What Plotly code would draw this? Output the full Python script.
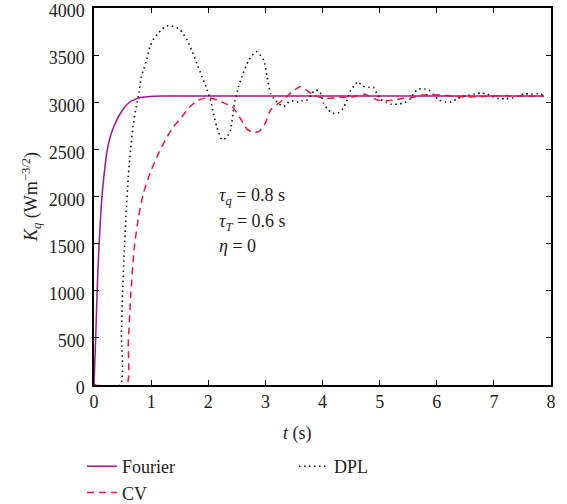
import plotly.graph_objects as go

# ---- data ----
t_fourier = [0, 0.03, 0.055, 0.09, 0.14, 0.18, 0.22, 0.27, 0.32, 0.39, 0.45, 0.54,
             0.62, 0.72, 0.84, 0.97, 1.2, 2.0, 3.0, 4.0, 5.0, 6.0, 7.0, 7.88]
k_fourier = [0, 500, 1000, 1500, 2000, 2250, 2450, 2600, 2700, 2800, 2870, 2950,
             3000, 3030, 3052, 3061, 3065, 3065, 3065, 3065, 3065, 3065, 3065, 3065]

t_cv = [0, 0.57, 0.60, 0.64, 0.70, 0.78, 0.865, 0.98, 1.13, 1.25, 1.39, 1.54, 1.68, 1.83,
        2.0, 2.15, 2.28, 2.42, 2.56, 2.68, 2.78, 2.88, 3.0, 3.09, 3.2, 3.32, 3.47, 3.61,
        3.7, 3.82, 3.96, 4.11, 4.26, 4.4, 4.55, 4.72, 4.84, 4.96, 5.11, 5.25, 5.43, 5.53,
        5.72, 5.89, 6.07, 6.25, 6.42, 6.6, 6.77, 6.95, 7.12, 7.3, 7.47, 7.65, 7.87]
k_cv = [0, 0, 450, 920, 1432, 1786, 2034, 2246, 2458, 2600, 2740, 2847, 2953, 3024,
        3048, 3024, 2990, 2953, 2830, 2715, 2680, 2688, 2780, 2918, 2975, 3031, 3112, 3165,
        3137, 3088, 3052, 3042, 3052, 3052, 3059, 3088, 3059, 3024, 3017, 3024, 3042, 3042,
        3073, 3080, 3077, 3066, 3059, 3056, 3059, 3066, 3070, 3070, 3066, 3063, 3066]

t_dpl = [0, 0.46, 0.48, 0.50, 0.53, 0.56, 0.60, 0.64, 0.69, 0.74, 0.79, 0.83, 0.92, 0.98,
         1.05, 1.12, 1.19, 1.27, 1.36, 1.44, 1.51, 1.63, 1.71, 1.80, 1.89, 1.98, 2.04, 2.09,
         2.15, 2.24, 2.33, 2.39, 2.44, 2.47, 2.53, 2.59, 2.71, 2.84, 2.97, 3.03, 3.09, 3.15,
         3.23, 3.32, 3.41, 3.50, 3.58, 3.65, 3.73, 3.80, 3.87, 3.95, 4.02, 4.09, 4.18, 4.29,
         4.36, 4.42, 4.49, 4.55, 4.62, 4.70, 4.80, 4.89, 4.95, 5.02, 5.11, 5.21, 5.33, 5.43,
         5.53, 5.59, 5.67, 5.79, 5.88, 5.95, 6.04, 6.15, 6.26, 6.35, 6.45, 6.57, 6.67, 6.77,
         6.88, 6.98, 7.09, 7.21, 7.32, 7.42, 7.53, 7.65, 7.77, 7.87]
k_dpl = [0, 0, 550, 973, 1432, 1786, 2210, 2493, 2777, 2953, 3112, 3271, 3448, 3590,
         3678, 3730, 3773, 3809, 3809, 3794, 3767, 3660, 3554, 3413, 3271, 3130, 3024, 2883,
         2740, 2600, 2635, 2706, 2918, 3024, 3165, 3271, 3448, 3537, 3448, 3271, 3095, 3040,
         2988, 2953, 3006, 3017, 3000, 3017, 3024, 3077, 3130, 3112, 2988, 2925, 2883, 2890,
         2935, 3006, 3123, 3173, 3218, 3173, 3159, 3159, 3095, 3031, 3000, 2978, 2981, 2995,
         3031, 3088, 3137, 3141, 3123, 3077, 3024, 3003, 3003, 3035, 3059, 3077, 3088, 3098,
         3088, 3059, 3038, 3038, 3045, 3066, 3088, 3088, 3091, 3077]

x_ticks = [0, 1, 2, 3, 4, 5, 6, 7, 8]
y_ticks = [0, 500, 1000, 1500, 2000, 2500, 3000, 3500, 4000]

FONT = "Liberation Serif"
FS = 18
TXT = "#222"

# plot-area geometry (pixels) used to place paper-referenced text
L, R, T, B = 94, 16, 8, 119
PW, PH = 567 - L - R, 504 - T - B


def px_x(x):
    return (x - L) / PW


def px_y(y):
    return (504 - B - y) / PH


fig = go.Figure()
fig.add_trace(go.Scatter(x=t_fourier, y=k_fourier, mode="lines", name="Fourier",
                         line=dict(color="#a0168c", width=1.5, shape="spline", smoothing=0.8)))
fig.add_trace(go.Scatter(x=t_dpl, y=k_dpl, mode="lines", name="DPL",
                         line=dict(color="#111111", width=1.6, dash="1.5px,3.5px",
                                   shape="spline", smoothing=0.6)))
fig.add_trace(go.Scatter(x=t_cv, y=k_cv, mode="lines", name="CV",
                         line=dict(color="#e8183a", width=1.5, dash="7px,5px",
                                   shape="spline", smoothing=0.6)))

axis_common = dict(showgrid=False, zeroline=False, showline=True, linecolor="black",
                   linewidth=1.5, mirror="ticks", ticks="inside", ticklen=5,
                   tickwidth=1.2, tickcolor="black", automargin=False,
                   ticklabeloverflow="allow",
                   tickfont=dict(family=FONT, size=FS, color=TXT))

fig.update_xaxes(range=[0, 8], tickvals=x_ticks, ticktext=[str(v) for v in x_ticks],
                 **axis_common)
fig.update_yaxes(range=[0, 4000], tickvals=y_ticks, ticktext=[str(v) for v in y_ticks],
                 ticklabelstandoff=4, ticklabelshift=3, **axis_common)

fig.update_layout(
    width=567, height=504,
    margin=dict(l=L, r=R, t=T, b=B, autoexpand=False),
    plot_bgcolor="white", paper_bgcolor="white",
    font=dict(family=FONT, size=FS, color=TXT),
    yaxis_title=dict(text="<i>K</i><sub><i>q</i></sub> (Wm<sup>−3/2</sup>)",
                     font=dict(family=FONT, size=FS), standoff=6),
    legend=dict(orientation="h", x=px_x(82), xanchor="left", y=px_y(448), yanchor="top",
                entrywidth=167, entrywidthmode="pixels",
                font=dict(family=FONT, size=FS, color=TXT),
                bgcolor="rgba(0,0,0,0)", tracegroupgap=0, itemwidth=30),
    showlegend=True,
)

# x-axis title
fig.add_annotation(x=px_x(297.5), y=px_y(433), xref="paper", yref="paper",
                   xanchor="center", yanchor="middle",
                   text="<i>t</i> (s)", showarrow=False,
                   font=dict(family=FONT, size=FS, color=TXT))

# parameter text block
for label, ypx in [("<i>τ</i><sub><i>q</i></sub> = 0.8 s", 196),
                   ("<i>τ</i><sub><i>T</i></sub> = 0.6 s", 222),
                   ("<i>η</i> = 0", 246)]:
    fig.add_annotation(x=px_x(217), y=px_y(ypx), xref="paper", yref="paper",
                       xanchor="left", yanchor="middle", showarrow=False, align="left",
                       text=label, font=dict(family=FONT, size=FS, color=TXT))

fig.write_html("out.html")
